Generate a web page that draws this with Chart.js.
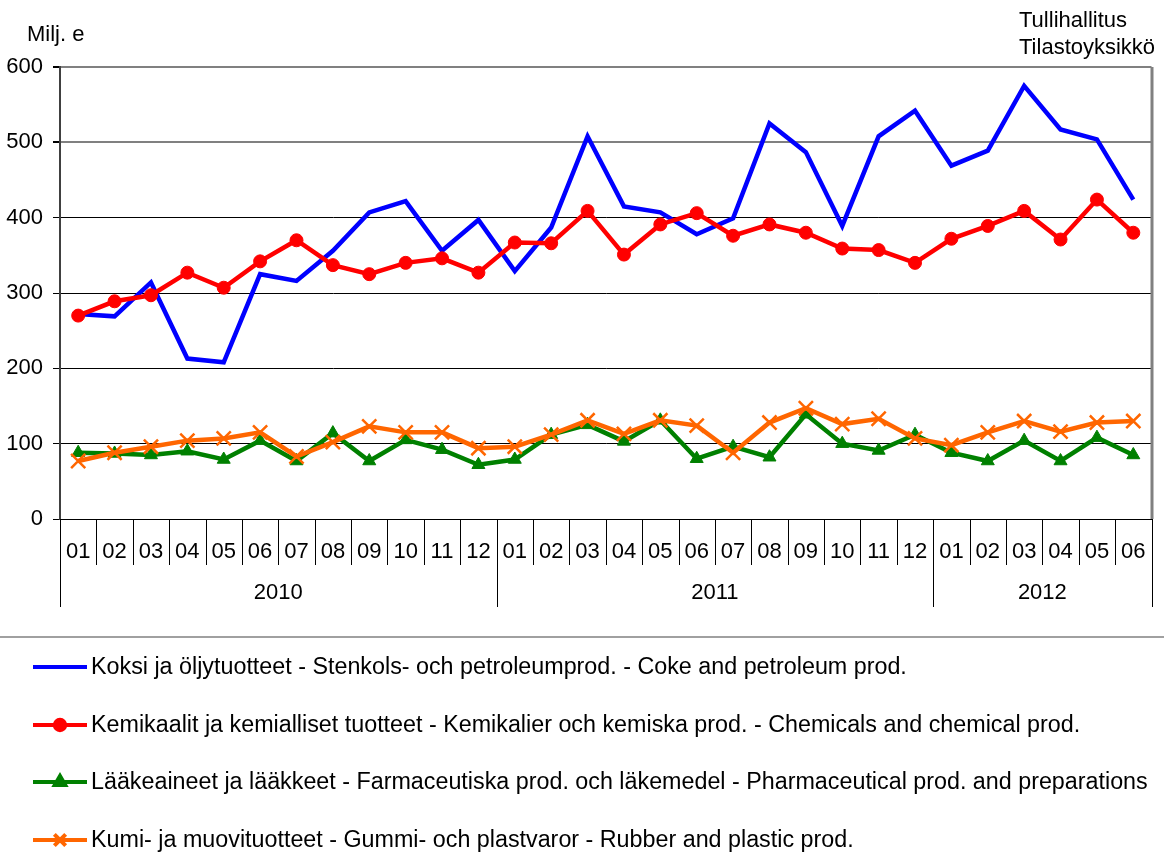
<!DOCTYPE html>
<html>
<head>
<meta charset="utf-8">
<script src="https://cdn.jsdelivr.net/npm/chart.js@4"></script>
<style>
  body { margin: 0; background: #fff; }
  canvas { display: block; }
</style>
</head>
<body>
<canvas id="chart" width="1164" height="863"></canvas>
<script>
const MONTHS = ['01','02','03','04','05','06','07','08','09','10','11','12',
                '01','02','03','04','05','06','07','08','09','10','11','12',
                '01','02','03','04','05','06'];
const YEARS = ['2010', '2011', '2012'];
const YEAR_COUNTS = [12, 12, 6];

const KOKSI = [272, 269, 314, 213, 208, 325, 316, 356, 407, 422, 356, 397, 329, 387, 508,
               415, 407, 378, 399, 525, 487, 389, 508, 542, 469, 489, 575, 517, 504, 424];
const KEMIKAALIT = [270, 289, 297, 327, 307, 342, 370, 337, 325, 340, 346, 327, 367, 366, 409,
                    351, 391, 406, 376, 391, 380, 359, 357, 340, 372, 389, 409, 371, 424, 380];
const LAAKEAINEET = [88, 87, 85, 90, 79, 104, 77, 114, 77, 105, 92, 72, 79, 112, 125,
                     103, 131, 80, 96, 82, 139, 100, 91, 112, 88, 77, 104, 77, 108, 85];
const KUMI = [77, 88, 96, 104, 107, 115, 83, 102, 123, 115, 115, 94, 96, 112, 131,
              113, 131, 124, 88, 128, 147, 126, 133, 107, 98, 115, 130, 116, 128, 130];

const LABELS = [
    'Koksi ja öljytuotteet - Stenkols- och petroleumprod. - Coke and petroleum prod.',
    'Kemikaalit ja kemialliset tuotteet - Kemikalier och kemiska prod. - Chemicals and chemical prod.',
    'Lääkeaineet ja lääkkeet - Farmaceutiska prod. och läkemedel - Pharmaceutical prod. and preparations',
    'Kumi- ja muovituotteet - Gummi- och plastvaror - Rubber and plastic prod.'
];

const FONT = '"Liberation Sans", Arial, sans-serif';
const TXT = '#000';

// year grouping, separators, title texts and the legend below the chart
const extrasPlugin = {
    id: 'extras',
    afterDraw(chart) {
        const ctx = chart.ctx;
        const x = chart.scales.x;
        const area = chart.chartArea;
        const step = x.getPixelForValue(1) - x.getPixelForValue(0);
        ctx.save();

        // month separators
        ctx.strokeStyle = '#000';
        ctx.lineWidth = 1;
        let start = 0;
        const yearBounds = [0];
        YEAR_COUNTS.forEach(n => { start += n; yearBounds.push(start); });
        for (let i = 0; i <= MONTHS.length; i++) {
            const px = Math.round(x.getPixelForValue(i) - step / 2) + 0.5;
            const isYear = yearBounds.includes(i);
            ctx.beginPath();
            ctx.moveTo(px, area.bottom);
            ctx.lineTo(px, isYear ? area.bottom + 88 : area.bottom + 46);
            ctx.stroke();
        }

        // year labels
        ctx.fillStyle = TXT;
        ctx.font = '22px ' + FONT;
        ctx.textAlign = 'center';
        ctx.textBaseline = 'middle';
        YEARS.forEach((yr, k) => {
            const a = x.getPixelForValue(yearBounds[k]) - step / 2;
            const b = x.getPixelForValue(yearBounds[k + 1]) - step / 2;
            ctx.fillText(yr, (a + b) / 2, area.bottom + 74);
        });

        // right border
        ctx.strokeStyle = '#808080';
        ctx.lineWidth = 3;
        ctx.beginPath();
        ctx.moveTo(area.right + 0.5, area.top);
        ctx.lineTo(area.right + 0.5, area.bottom);
        ctx.stroke();

        // texts at the top
        ctx.textAlign = 'left';
        ctx.fillText('Milj. e', 27, 35);
        ctx.fillText('Tullihallitus', 1019, 21);
        ctx.fillText('Tilastoyksikkö', 1019, 48);

        // separator above legend
        ctx.strokeStyle = '#808080';
        ctx.lineWidth = 1.5;
        ctx.beginPath();
        ctx.moveTo(0, 637);
        ctx.lineTo(chart.width, 637);
        ctx.stroke();

        // legend
        const rows = [667, 725, 782, 840];
        chart.data.datasets.forEach((ds, i) => {
            const y = rows[i];
            ctx.strokeStyle = ds.borderColor;
            ctx.lineWidth = 4;
            ctx.beginPath();
            ctx.moveTo(33, y);
            ctx.lineTo(87, y);
            ctx.stroke();
            if (ds.pointRadius > 0) {
                ctx.fillStyle = ds.pointBackgroundColor;
                ctx.strokeStyle = ds.pointBorderColor;
                Chart.helpers.drawPoint(ctx, {
                    pointStyle: ds.pointStyle,
                    radius: ds.pointRadius * 0.8,
                    rotation: 0,
                    borderWidth: ds.pointBorderWidth
                }, 60, y);
            }
            ctx.fillStyle = TXT;
            ctx.font = '23.3px ' + FONT;
            ctx.textAlign = 'left';
            ctx.fillText(ds.label, 91, y + 1);
        });
        ctx.restore();
    }
};

new Chart(document.getElementById('chart'), {
    type: 'line',
    data: {
        labels: MONTHS,
        datasets: [
            {
                label: LABELS[0],
                data: KOKSI,
                borderColor: '#0000ff',
                borderWidth: 4.5,
                pointRadius: 0,
                order: 3
            },
            {
                label: LABELS[1],
                data: KEMIKAALIT,
                borderColor: '#ff0000',
                borderWidth: 4.5,
                pointStyle: 'circle',
                pointRadius: 6.5,
                pointBackgroundColor: '#ff0000',
                pointBorderColor: '#ff0000',
                pointBorderWidth: 1,
                order: 2
            },
            {
                label: LABELS[2],
                data: LAAKEAINEET,
                borderColor: '#008000',
                borderWidth: 4.5,
                pointStyle: 'triangle',
                pointRadius: 7.5,
                pointBackgroundColor: '#008000',
                pointBorderColor: '#008000',
                pointBorderWidth: 1,
                order: 1
            },
            {
                label: LABELS[3],
                data: KUMI,
                borderColor: '#ff6600',
                borderWidth: 4.5,
                pointStyle: 'crossRot',
                pointRadius: 10,
                pointBackgroundColor: '#ff6600',
                pointBorderColor: '#ff6600',
                pointBorderWidth: 2.5,
                order: 0
            }
        ]
    },
    options: {
        responsive: false,
        animation: false,
        layout: { padding: { left: 0, top: 67, right: 7, bottom: 244 } },
        plugins: {
            legend: { display: false },
            tooltip: { enabled: false }
        },
        scales: {
            x: {
                offset: true,
                afterFit: s => { s.height = 100; },
                grid: { display: false },
                border: { color: '#000', width: 1 },
                ticks: {
                    color: TXT,
                    font: { family: FONT, size: 22 },
                    maxRotation: 0,
                    autoSkip: false,
                    padding: 12
                }
            },
            y: {
                min: 0,
                max: 600,
                afterFit: s => { s.width = 60; },
                border: { color: '#404040', width: 2 },
                grid: {
                    color: c => c.tick.value >= 500 ? '#808080' : '#000',
                    lineWidth: c => c.tick.value >= 500 ? 2 : 1,
                    tickLength: 7,
                    tickColor: '#000'
                },
                ticks: {
                    stepSize: 100,
                    color: TXT,
                    font: { family: FONT, size: 22 },
                    padding: 10
                }
            }
        }
    },
    plugins: [extrasPlugin]
});
</script>
</body>
</html>
